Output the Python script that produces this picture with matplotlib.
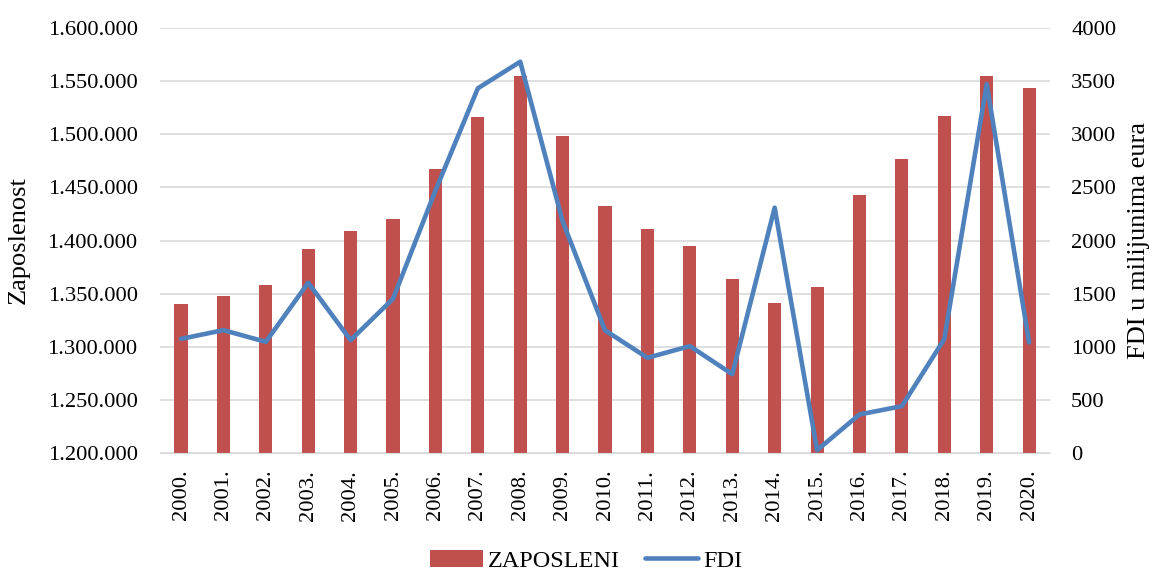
import matplotlib
matplotlib.use('Agg')
from matplotlib import pyplot as plt
from matplotlib.ticker import FuncFormatter

godine = ['2000.', '2001.', '2002.', '2003.', '2004.', '2005.', '2006.',
          '2007.', '2008.', '2009.', '2010.', '2011.', '2012.', '2013.',
          '2014.', '2015.', '2016.', '2017.', '2018.', '2019.', '2020.']
zaposleni = [1340200, 1347700, 1358400, 1392200, 1409200, 1419900, 1467500,
             1516500, 1554800, 1498300, 1432100, 1410800, 1394800, 1363700,
             1341400, 1355900, 1442800, 1476700, 1517100, 1554800, 1543500]
fdi = [1075, 1157, 1047, 1603, 1063, 1452, 2470,
       3432, 3682, 2180, 1155, 897, 1007, 743,
       2309, 28, 364, 442, 1073, 3472, 1041]

plt.rcParams['font.family'] = ['Liberation Serif', 'DejaVu Serif']
plt.rcParams['font.size'] = 16.2

fig = plt.figure(figsize=(11.58, 5.70), dpi=100)
ax = fig.add_axes([0.138, 0.205, 0.769, 0.746])
x = list(range(len(godine)))

# stupci: zaposleni
ax.bar(x, zaposleni, width=0.31, color='#C0504D', label='ZAPOSLENI', zorder=2)
ax.set_ylim(1200000, 1600000)
ax.set_yticks(range(1200000, 1600001, 50000))
ax.yaxis.set_major_formatter(FuncFormatter(lambda v, p: '{:,.0f}'.format(v).replace(',', '.')))
ax.set_xlim(-0.5, len(godine) - 0.5)
ax.set_xticks(x)
ax.set_xticklabels(godine, rotation=90)
ax.grid(axis='y', color='#D9D9D9', linewidth=1.2, zorder=0)
ax.set_axisbelow(True)
ax.tick_params(axis='y', length=0, pad=16)
ax.tick_params(axis='x', length=0, pad=12)
ax.set_ylabel('Zaposlenost', fontsize=19)
ax.yaxis.set_label_coords(-0.146, 0.5)
for s in ['top', 'right', 'left']:
    ax.spines[s].set_visible(False)
ax.spines['bottom'].set_color('#D9D9D9')

# linija: FDI
ax2 = ax.twinx()
ax2.plot(x, fdi, color='#4F81BD', linewidth=3.3, label='FDI', solid_capstyle='round')
ax2.set_ylim(0, 4000)
ax2.set_yticks(range(0, 4001, 500))
ax2.tick_params(length=0, pad=15)
ax2.set_ylabel('FDI u milijunima eura', fontsize=19)
ax2.yaxis.set_label_coords(1.087, 0.5)
for s in ['top', 'right', 'left', 'bottom']:
    ax2.spines[s].set_visible(False)

h1, l1 = ax.get_legend_handles_labels()
h2, l2 = ax2.get_legend_handles_labels()
fig.legend(h1 + h2, l1 + l2, loc='center', bbox_to_anchor=(0.506, 0.016),
           ncol=2, frameon=False, handlelength=2.2, columnspacing=1.0,
           handletextpad=0.2, fontsize=17.5)

plt.savefig('out.png', dpi=100)
